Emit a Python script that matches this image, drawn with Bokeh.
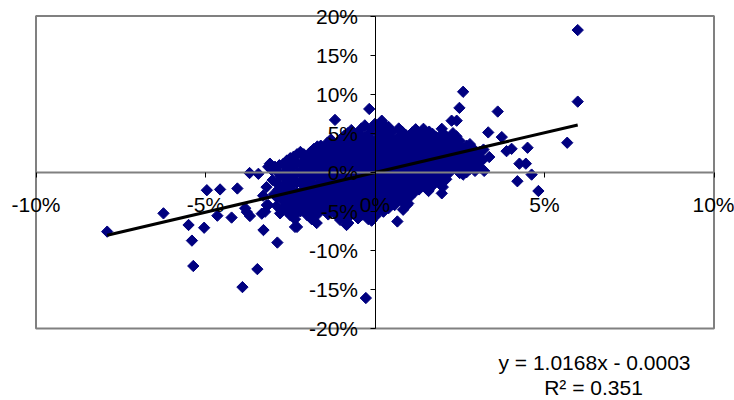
import numpy as np
from bokeh.plotting import figure
from bokeh.models import LinearAxis, FixedTicker, Range1d, Label
from bokeh.embed import file_html
from bokeh.resources import INLINE

# ---- data (values in percent) ----
x_ticks = [-10, -5, 0, 5, 10]
x_tick_labels = ["-10%", "-5%", "0%", "5%", "10%"]
y_ticks = [-20, -15, -10, -5, 0, 5, 10, 15, 20]
y_tick_labels = ["-20%", "-15%", "-10%", "-5%", "0%", "5%", "10%", "15%", "20%"]
x_lim = (-10, 10)
y_lim = (-20, 20)

slope = 1.0168
intercept = -0.0003  # in fraction units
equation_text = "y = 1.0168x - 0.0003"
r2_text = "R\u00b2 = 0.351"

outlier_pts = [
    (5.98, 18.2), (5.98, 9.04), (5.67, 3.78), (2.6, 10.3), (2.49, 8.24), (3.62, 7.77),
    (-0.17, 8.1), (0.2, 6.6), (4.5, 3.14), (4.45, 1.1), (4.26, 1.1), (4.62, -0.3),
    (4.2, -1.15), (4.82, -2.4), (3.88, 2.7), (4.03, 3.0), (3.74, 4.5), (3.37, 1.95),
    (3.22, 0.17), (2.95, 0.17), (3.34, 5.1), (2.41, 6.6), (2.26, 6.6), (1.97, 5.56),
    (1.43, 5.56), (-7.9, -7.6), (-6.24, -5.26), (-5.5, -6.75), (-5.04, -7.1),
    (-5.4, -8.75), (-5.36, -12.0), (-3.47, -12.4), (-3.91, -14.7), (-0.27, -16.1),
    (-3.29, -7.4), (-2.88, -9.0), (-4.65, -5.56), (-4.23, -5.8), (-3.78, -5.1),
    (-3.69, -5.6), (-3.24, -5.05), (-3.19, -4.2), (-2.8, -5.26), (-2.36, -7.0),
    (-2.36, -6.0), (-1.87, -6.0), (-0.79, -6.5), (-4.96, -2.3), (-4.57, -2.2),
    (-4.06, -2.08), (-1.18, 6.7), (-3.7, -0.1), (-2.1, 2.3), (-1.67, 2.8),
    (-1.18, 2.6), (-0.2, 4.9), (0.1, 4.9), (-3.15, 0.7), (-2.95, 0.7), (-3.44, -0.2),
    (0.66, -6.3), (0.98, -4.0), (0.83, -4.8), (1.97, -2.7), (-0.05, -5.26),
    (0.25, -5.05), (0.94, -4.2), (-3.83, -4.6), (-3.34, -5.3), (-3.15, -4.2),
    (-2.5, -5.5), (-2.3, -7.0), (-1.72, -6.5), (-1.03, -6.1), (-0.84, -6.75),
    (-3.1, 1.1),
]

core_pts = [
    (-3.02, -1.0), (-2.98, -2.8), (-3.05, 0.3), (-3.2, -1.9), (-3.3, -3.0),
    (-2.82, 0.9), (-2.78, -0.5), (-2.85, -2.2), (-2.75, -3.5), (-2.9, -4.3),
    (-2.6, 1.5), (-2.62, 0.2), (-2.58, -1.0), (-2.65, -2.6), (-2.55, -4.0), (-2.6, -5.0),
    (-2.4, 2.0), (-2.42, 0.8), (-2.38, -0.4), (-2.45, -1.6), (-2.4, -3.0), (-2.35, -4.5),
    (-2.2, 2.6), (-2.18, 1.2), (-2.22, 0.0), (-2.2, -1.3), (-2.15, -2.4), (-2.25, -3.6), (-2.2, -5.0),
    (-2.0, 1.8), (-1.98, 0.5), (-2.02, -0.8), (-2.0, -2.0), (-1.96, -3.2), (-2.04, -4.3), (-2.0, -5.5),
    (-1.8, 3.0), (-1.82, 2.1), (-1.78, 0.9), (-1.8, -0.3), (-1.84, -1.5), (-1.76, -2.7), (-1.8, -3.9), (-1.82, -5.0),
    (-1.6, 3.4), (-1.58, 2.3), (-1.62, 1.2), (-1.6, 0.1), (-1.56, -1.1), (-1.64, -2.2), (-1.6, -3.4), (-1.58, -4.6),
    (-1.4, 3.8), (-1.42, 2.7), (-1.38, 1.5), (-1.4, 0.4), (-1.44, -0.6), (-1.36, -1.8), (-1.4, -3.0), (-1.42, -4.2), (-1.38, -5.4),
    (-1.2, 3.2), (-1.18, 2.0), (-1.22, 0.8), (-1.2, -0.3), (-1.16, -1.4), (-1.24, -2.5), (-1.2, -3.7), (-1.18, -4.9),
    (-1.0, 4.3), (-1.02, 3.0), (-0.98, 1.8), (-1.0, 0.6), (-1.04, -0.5), (-0.96, -1.6), (-1.0, -2.8), (-1.02, -4.0), (-0.98, -5.2),
    (-0.8, 5.0), (-0.82, 3.8), (-0.78, 2.5), (-0.8, 1.3), (-0.84, 0.2), (-0.76, -0.9), (-0.8, -2.1), (-0.82, -3.3), (-0.78, -4.5), (-0.8, -5.8),
    (-0.6, 4.4), (-0.58, 3.2), (-0.62, 2.0), (-0.6, 0.9), (-0.56, -0.3), (-0.64, -1.5), (-0.6, -2.6), (-0.58, -3.8), (-0.62, -5.0),
    (-0.4, 5.6), (-0.42, 4.3), (-0.38, 3.0), (-0.4, 1.7), (-0.44, 0.5), (-0.36, -0.6), (-0.4, -1.8), (-0.42, -3.0), (-0.38, -4.2), (-0.4, -5.5),
    (-0.22, 3.6), (-0.18, 2.4), (-0.2, 1.2), (-0.24, 0.0), (-0.16, -1.1), (-0.2, -2.3), (-0.22, -3.5), (-0.18, -4.7), (-0.2, -6.0),
    (0.0, 6.2), (0.0, 3.9), (-0.02, 2.7), (0.02, 1.5), (0.0, 0.3), (-0.04, -0.8), (0.04, -2.0), (0.0, -3.2), (-0.02, -4.4), (0.02, -5.6),
    (0.2, 5.4), (0.22, 4.2), (0.18, 3.0), (0.2, 1.8), (0.24, 0.7), (0.16, -0.4), (0.2, -1.6), (0.22, -2.8), (0.18, -4.0),
    (0.4, 5.8), (0.42, 4.6), (0.38, 3.4), (0.4, 2.2), (0.44, 1.0), (0.36, -0.1), (0.4, -1.2), (0.42, -2.4), (0.38, -3.6), (0.4, -4.6),
    (0.6, 4.0), (0.58, 2.9), (0.62, 1.7), (0.6, 0.5), (0.56, -0.6), (0.64, -1.8), (0.6, -3.0), (0.58, -4.2),
    (0.8, 5.2), (0.82, 4.1), (0.78, 3.0), (0.8, 1.9), (0.84, 0.8), (0.76, -0.3), (0.8, -1.4), (0.82, -2.6), (0.78, -3.7),
    (1.0, 4.6), (1.02, 3.5), (0.98, 2.3), (1.0, 1.2), (1.04, 0.1), (0.96, -1.0), (1.0, -2.1), (1.02, -3.2),
    (1.2, 5.5), (1.18, 4.4), (1.22, 3.2), (1.2, 2.0), (1.16, 0.9), (1.24, -0.2), (1.2, -1.3), (1.18, -2.5),
    (1.4, 4.0), (1.42, 2.8), (1.38, 1.6), (1.4, 0.5), (1.44, -0.6), (1.36, -1.8),
    (1.6, 5.2), (1.58, 4.2), (1.62, 3.0), (1.6, 1.9), (1.56, 0.8), (1.64, -0.3), (1.6, -1.5), (1.58, -2.4),
    (1.8, 4.5), (1.82, 3.4), (1.78, 2.3), (1.8, 1.2), (1.84, 0.1), (1.76, -1.0),
    (2.0, 5.0), (2.02, 3.8), (1.98, 2.7), (2.0, 1.6), (2.04, 0.5), (1.96, -0.6), (2.0, -1.9),
    (2.2, 4.2), (2.18, 3.1), (2.22, 2.0), (2.2, 0.9), (2.16, -0.2),
    (2.4, 4.6), (2.42, 3.5), (2.38, 2.4), (2.4, 1.3), (2.44, 0.2),
    (2.6, 3.0), (2.58, 1.9), (2.62, 0.8), (2.6, -0.3),
    (2.8, 3.6), (2.82, 2.5), (2.78, 1.4), (2.8, 0.4),
    (3.0, 2.2), (3.02, 1.2),
    (3.2, 2.9), (3.18, 1.6),
]

fill_pts = [
    (-2.9, 0.1), (-2.9, -1.4), (-2.9, -3.2),
    (-2.7, 1.1), (-2.7, -0.2), (-2.7, -1.6), (-2.7, -3.0), (-2.7, -4.6),
    (-2.5, 1.8), (-2.5, 0.6), (-2.5, -0.7), (-2.5, -2.0), (-2.5, -3.5), (-2.5, -4.8),
    (-2.3, 2.3), (-2.3, 1.1), (-2.3, -0.1), (-2.3, -1.3), (-2.3, -2.6), (-2.3, -3.9), (-2.3, -5.2),
    (-2.1, 2.0), (-2.1, 0.8), (-2.1, -0.5), (-2.1, -1.7), (-2.1, -2.9), (-2.1, -4.0),
    (-1.9, 2.6), (-1.9, 1.4), (-1.9, 0.2), (-1.9, -1.0), (-1.9, -2.2), (-1.9, -3.4), (-1.9, -4.6),
    (-1.7, 3.3), (-1.7, 2.0), (-1.7, 0.7), (-1.7, -0.5), (-1.7, -1.7), (-1.7, -2.9), (-1.7, -4.1), (-1.7, -5.4),
    (-1.5, 3.1), (-1.5, 1.9), (-1.5, 0.8), (-1.5, -0.2), (-1.5, -1.3), (-1.5, -2.5), (-1.5, -3.6), (-1.5, -4.8),
    (-1.3, 4.2), (-1.3, 3.3), (-1.3, 2.1), (-1.3, 1.0), (-1.3, -0.1), (-1.3, -1.2), (-1.3, -2.3), (-1.3, -3.5), (-1.3, -4.6),
    (-1.1, 3.7), (-1.1, 2.5), (-1.1, 1.3), (-1.1, 0.1), (-1.1, -1.0), (-1.1, -2.1), (-1.1, -3.3), (-1.1, -4.5), (-1.1, -5.6),
    (-0.9, 4.7), (-0.9, 3.5), (-0.9, 2.3), (-0.9, 1.0), (-0.9, -0.2), (-0.9, -1.3), (-0.9, -2.4), (-0.9, -3.6), (-0.9, -4.9),
    (-0.7, 5.4), (-0.7, 4.1), (-0.7, 2.8), (-0.7, 1.6), (-0.7, 0.4), (-0.7, -0.7), (-0.7, -1.9), (-0.7, -3.1), (-0.7, -4.3), (-0.7, -5.4),
    (-0.5, 5.0), (-0.5, 3.7), (-0.5, 2.5), (-0.5, 1.3), (-0.5, 0.2), (-0.5, -1.0), (-0.5, -2.2), (-0.5, -3.4), (-0.5, -4.6), (-0.5, -5.9),
    (-0.3, 6.0), (-0.3, 4.5), (-0.3, 3.2), (-0.3, 2.0), (-0.3, 0.8), (-0.3, -0.3), (-0.3, -1.4), (-0.3, -2.7), (-0.3, -3.9), (-0.3, -5.1),
    (-0.1, 5.5), (-0.1, 4.2), (-0.1, 3.0), (-0.1, 1.8), (-0.1, 0.6), (-0.1, -0.5), (-0.1, -1.6), (-0.1, -2.8), (-0.1, -4.0), (-0.1, -5.1), (-0.1, -6.2),
    (0.1, 5.8), (0.1, 3.5), (0.1, 2.2), (0.1, 1.0), (0.1, -0.2), (0.1, -1.3), (0.1, -2.5), (0.1, -3.7), (0.1, -4.9),
    (0.3, 6.0), (0.3, 4.8), (0.3, 3.6), (0.3, 2.4), (0.3, 1.3), (0.3, 0.1), (0.3, -1.0), (0.3, -2.2), (0.3, -3.4), (0.3, -4.5),
    (0.5, 5.2), (0.5, 4.0), (0.5, 2.8), (0.5, 1.6), (0.5, 0.4), (0.5, -0.7), (0.5, -1.8), (0.5, -3.0), (0.5, -4.1),
    (0.7, 5.6), (0.7, 4.6), (0.7, 3.5), (0.7, 2.3), (0.7, 1.1), (0.7, 0.0), (0.7, -1.2), (0.7, -2.4), (0.7, -3.5),
    (0.9, 4.8), (0.9, 3.6), (0.9, 2.5), (0.9, 1.4), (0.9, 0.3), (0.9, -0.8), (0.9, -1.9), (0.9, -3.0),
    (1.1, 5.1), (1.1, 4.0), (1.1, 2.9), (1.1, 1.7), (1.1, 0.6), (1.1, -0.5), (1.1, -1.6), (1.1, -2.7),
    (1.3, 4.8), (1.3, 3.6), (1.3, 2.4), (1.3, 1.2), (1.3, 0.1), (1.3, -1.0), (1.3, -2.2),
    (1.5, 4.6), (1.5, 3.5), (1.5, 2.3), (1.5, 1.1), (1.5, 0.0), (1.5, -1.1), (1.5, -2.0),
    (1.7, 4.9), (1.7, 3.8), (1.7, 2.7), (1.7, 1.6), (1.7, 0.4), (1.7, -0.7), (1.7, -1.7),
    (1.9, 4.2), (1.9, 3.0), (1.9, 1.9), (1.9, 0.8), (1.9, -0.3), (1.9, -1.3),
    (2.1, 4.6), (2.1, 3.5), (2.1, 2.4), (2.1, 1.3), (2.1, 0.2), (2.1, -0.9),
    (2.3, 5.0), (2.3, 3.8), (2.3, 2.7), (2.3, 1.6), (2.3, 0.5),
    (2.5, 4.0), (2.5, 3.0), (2.5, 1.8), (2.5, 0.7), (2.5, -0.1),
    (2.7, 3.4), (2.7, 2.2), (2.7, 1.1), (2.7, 0.0),
    (2.9, 3.0), (2.9, 1.9), (2.9, 0.9),
    (3.1, 2.6), (3.1, 1.7), (3.1, 0.6),
]

# ---- layout constants (pixels) ----
W, H = 734, 400
PX_LEFT, PX_RIGHT, PX_TOP, PX_BOTTOM = 35.5, 713.5, 15.5, 328.0
x_per_px = (x_lim[1] - x_lim[0]) / (PX_RIGHT - PX_LEFT)
y_per_px = (y_lim[1] - y_lim[0]) / (PX_BOTTOM - PX_TOP)
x_range = Range1d(x_lim[0] - PX_LEFT * x_per_px, x_lim[1] + (W - PX_RIGHT) * x_per_px)
y_range = Range1d(y_lim[0] - (H - PX_BOTTOM) * y_per_px, y_lim[1] + PX_TOP * y_per_px)

FONT = "Liberation Sans"
FS = "21px"

all_pts = outlier_pts + core_pts + fill_pts
xs = [p_[0] for p_ in all_pts]
ys = [p_[1] for p_ in all_pts]

p = figure(width=W, height=H, output_backend="svg", toolbar_location=None,
           x_range=x_range, y_range=y_range,
           x_axis_location=None, y_axis_location=None,
           min_border_left=0, min_border_right=0, min_border_top=0,
           min_border_bottom=0, background_fill_color="white",
           border_fill_color="white")
p.grid.visible = False
p.outline_line_color = None

# plot-area box
p.quad(left=[x_lim[0]], right=[x_lim[1]], bottom=[y_lim[0]], top=[y_lim[1]],
       fill_color=None, line_color="#808080", line_width=2)

xax = LinearAxis(fixed_location=0, ticker=FixedTicker(ticks=x_ticks), bounds=x_lim,
                 major_label_overrides={t: l for t, l in zip(x_ticks, x_tick_labels)})
xax.axis_line_color = "#808080"
xax.axis_line_width = 2
xax.major_tick_line_color = "black"
xax.major_tick_in = 0
xax.major_tick_out = 5
xax.minor_tick_line_color = None
xax.major_label_standoff = 16
xax.major_label_text_font = FONT
xax.major_label_text_font_size = FS
xax.major_label_text_color = "black"
p.add_layout(xax, "below")

yax = LinearAxis(fixed_location=0, ticker=FixedTicker(ticks=y_ticks), bounds=y_lim,
                 major_label_overrides={t: l for t, l in zip(y_ticks, y_tick_labels)})
yax.axis_line_color = "black"
yax.axis_line_width = 1
yax.major_tick_line_color = "black"
yax.major_tick_in = 0
yax.major_tick_out = 5
yax.minor_tick_line_color = None
yax.major_label_standoff = 12
yax.major_label_text_font = FONT
yax.major_label_text_font_size = FS
yax.major_label_text_color = "black"
p.add_layout(yax, "left")

p.scatter(xs, ys, marker="square", angle=np.pi / 4, size=8,
          fill_color="#000080", line_color="#000080", line_width=1)

x_lo, x_hi = min(xs), max(xs)
line_x = [x_lo, x_hi]
line_y = [slope * v + intercept * 100 for v in line_x]
p.line(line_x, line_y, line_color="black", line_width=3)

p.add_layout(Label(x=594, y=H - 362, x_units="screen", y_units="screen",
                   text=equation_text, text_align="center",
                   text_baseline="middle", text_font=FONT,
                   text_font_size=FS, text_color="black"))
p.add_layout(Label(x=593, y=H - 387, x_units="screen", y_units="screen",
                   text=r2_text, text_align="center",
                   text_baseline="middle", text_font=FONT,
                   text_font_size=FS, text_color="black"))

open("out.html", "w").write(file_html(p, INLINE))
